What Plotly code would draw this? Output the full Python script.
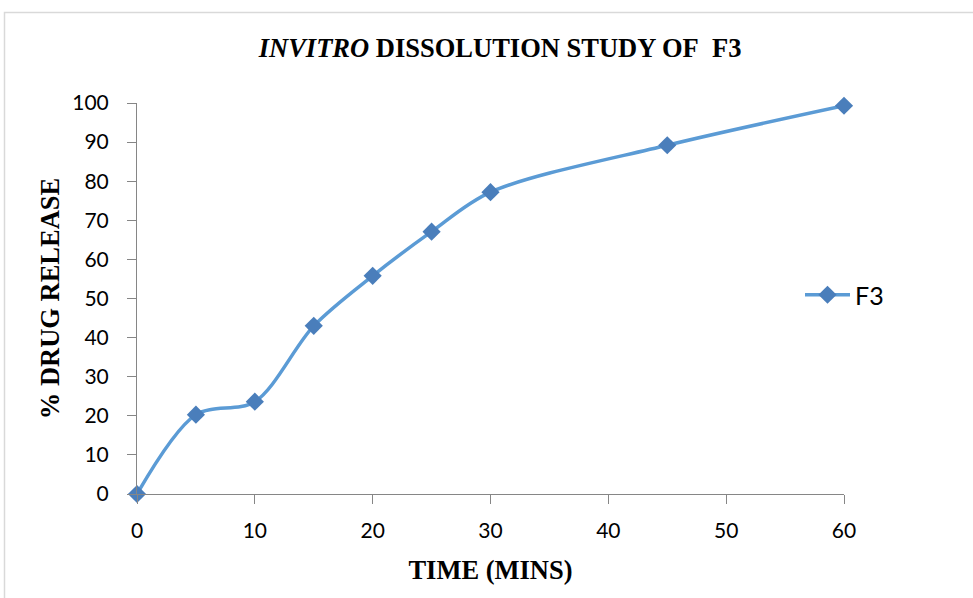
import plotly.graph_objects as go

time_min = [0, 5, 10, 15, 20, 25, 30, 45, 60]
drug_release = [0, 20.3, 23.6, 43.0, 55.8, 67.1, 77.2, 89.2, 99.3]
x_ticks = [0, 10, 20, 30, 40, 50, 60]
y_ticks = [0, 10, 20, 30, 40, 50, 60, 70, 80, 90, 100]

W, H = 973, 598
L, R, T, B = 137, 129, 103, 104
pw, ph = W - L - R, H - T - B

def px2paper_x(px):
    return (px - L) / pw

def px2paper_y(py):
    return (H - B - py) / ph

fig = go.Figure()
fig.add_trace(go.Scatter(
    x=time_min, y=drug_release, name="F3", mode="lines+markers",
    line=dict(color="#5B9BD5", width=3.5, shape="spline", smoothing=0.9),
    marker=dict(symbol="diamond", size=14, color="#4A7EBB"),
    cliponaxis=False,
))

tickfont = dict(family="Lato, Open Sans, sans-serif", size=21, color="#000000")
legendfont = dict(family="Lato, Open Sans, sans-serif", size=25, color="#000000")
titlefont = dict(family="Liberation Serif, Times New Roman, serif", size=26.5, color="#000000")

fig.update_layout(
    width=W, height=H,
    margin=dict(l=L, r=R, t=T, b=B, pad=0),
    paper_bgcolor="white", plot_bgcolor="white",
    title=dict(
        text="<b><i>INVITRO</i> DISSOLUTION STUDY OF\u00a0 F3</b>",
        x=0.514, xanchor="center", y=1 - 48 / H, yanchor="middle",
        font=titlefont,
    ),
    xaxis=dict(
        range=[0, 60], tickvals=x_ticks, ticks="outside", ticklen=9,
        tickcolor="#868686", showline=True, linecolor="#868686", linewidth=1,
        showgrid=False, zeroline=False, tickfont=tickfont, ticklabelstandoff=9,
        title=dict(text="<b>TIME (MINS)</b>", font=titlefont, standoff=19),
    ),
    yaxis=dict(
        range=[0, 100], tickvals=y_ticks, ticks="outside", ticklen=9,
        tickcolor="#868686", showline=True, linecolor="#868686", linewidth=1,
        showgrid=False, zeroline=False, tickfont=tickfont, ticklabelstandoff=14,
        title=dict(text="<b>% DRUG RELEASE</b>", font=titlefont, standoff=4),
    ),
    legend=dict(
        x=px2paper_x(800), y=px2paper_y(295), xanchor="left", yanchor="middle",
        font=legendfont, bgcolor="rgba(0,0,0,0)", itemwidth=45,
    ),
    showlegend=True,
)

fig.add_shape(
    type="rect", xref="paper", yref="paper",
    x0=px2paper_x(4.5), x1=px2paper_x(990), y0=px2paper_y(620), y1=px2paper_y(12.5),
    line=dict(color="#D9D9D9", width=1.5), fillcolor="rgba(0,0,0,0)", layer="below",
)

fig.write_html("out.html")
